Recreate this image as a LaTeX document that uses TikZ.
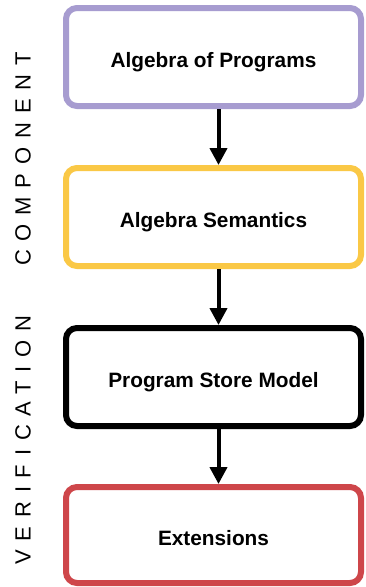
\documentclass[tikz,border=0pt]{standalone}
\usepackage{fontspec}
\setmainfont{Liberation Sans}
\usetikzlibrary{arrows.meta}
\definecolor{boxpurple}{RGB}{167,156,208}
\definecolor{boxyellow}{RGB}{250,200,70}
\definecolor{boxred}{RGB}{206,70,74}
\tikzset{
  stagebox/.style={draw, line width=6pt, rounded corners=11pt, minimum width=295pt,
    minimum height=98pt, fill=white, text height=20pt, text depth=0pt,
    font=\fontsize{20.8}{24}\selectfont\bfseries, text=black},
  flowarrow/.style={line width=4pt, -{Triangle[width=17pt,length=17pt]}},
  sidelabel/.style={rotate=90, font=\fontsize{22}{26}\selectfont\addfontfeature{LetterSpace=40}, text=black}
}
\begin{document}
\begin{tikzpicture}[x=1pt,y=-1pt]
\useasboundingbox (0,0) rectangle (365,587);
\node[stagebox, draw=boxpurple] (a) at (213.5,57) {Algebra of Programs};
\node[stagebox, draw=boxyellow] (b) at (213.5,217) {Algebra Semantics};
\node[stagebox, draw=black] (c) at (213.5,377) {Program Store Model};
\node[stagebox, draw=boxred, minimum height=96pt] (d) at (213.5,535) {Extensions};
\coordinate (ax) at (218.5,0);
\draw[flowarrow] (a.south -| ax) -- (b.north -| ax);
\draw[flowarrow] (b.south -| ax) -- (c.north -| ax);
\draw[flowarrow] (c.south -| ax) -- (d.north -| ax);
\node[sidelabel] (v) at (23,440) {VERIFICATION};
\node[sidelabel] (w) at (23,159) {COMPONENT};
\end{tikzpicture}
\end{document}
